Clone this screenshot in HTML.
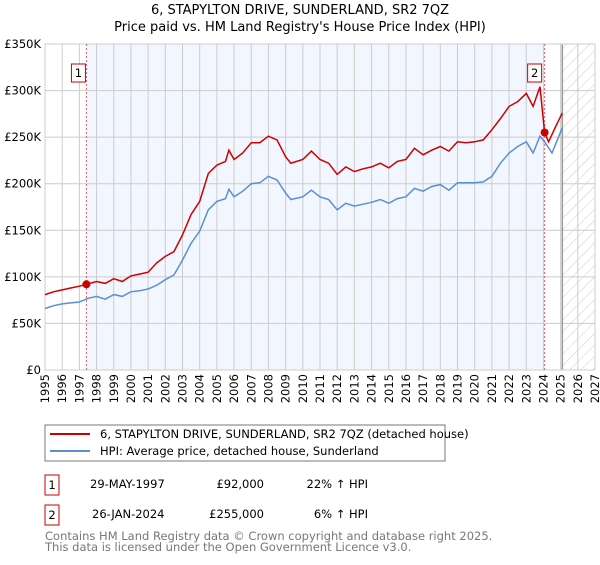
<!DOCTYPE html>
<html><head><meta charset="utf-8"><style>
body{margin:0;background:#fff;font-family:"Liberation Sans","DejaVu Sans",sans-serif;}
svg text{font-family:"DejaVu Sans","Liberation Sans",sans-serif;}
</style></head><body>
<svg id="chart" width="600" height="560" viewBox="0 0 600 560" xmlns="http://www.w3.org/2000/svg">
<defs><pattern id="hatch" patternUnits="userSpaceOnUse" width="8" height="8" patternTransform="rotate(45)"><line x1="0" y1="0" x2="0" y2="8" stroke="#ccc" stroke-width="1"/></pattern></defs>
<text x="300" y="14" text-anchor="middle" font-size="13">6, STAPYLTON DRIVE, SUNDERLAND, SR2 7QZ</text>
<text x="300" y="31" text-anchor="middle" font-size="13">Price paid vs. HM Land Registry's House Price Index (HPI)</text>
<g id="plot"></g>
<g>
<rect x="45" y="425" width="400" height="36" fill="#fff" stroke="#777"/>
<line x1="50" y1="434" x2="90" y2="434" stroke="#cc0000" stroke-width="2"/>
<text x="100" y="438" font-size="11.5">6, STAPYLTON DRIVE, SUNDERLAND, SR2 7QZ (detached house)</text>
<line x1="50" y1="451" x2="90" y2="451" stroke="#5b8fd4" stroke-width="2"/>
<text x="100" y="455" font-size="11.5">HPI: Average price, detached house, Sunderland</text>
</g>
<g font-size="11.5">
<rect x="45" y="475" width="14" height="20" fill="#fff" stroke="#cc0000"/>
<text x="52" y="489" text-anchor="middle">1</text>
<text x="90" y="488">29-MAY-1997</text>
<text x="264" y="488" text-anchor="end">£92,000</text>
<text x="368" y="488" text-anchor="end">22% ↑ HPI</text>
</g>
<g font-size="11.5">
<rect x="45" y="505" width="14" height="20" fill="#fff" stroke="#cc0000"/>
<text x="52" y="519" text-anchor="middle">2</text>
<text x="92" y="518">26-JAN-2024</text>
<text x="264" y="518" text-anchor="end">£255,000</text>
<text x="368" y="518" text-anchor="end">6% ↑ HPI</text>
</g>
<text x="45" y="540" font-size="11.5" fill="#777">Contains HM Land Registry data © Crown copyright and database right 2025.</text>
<text x="45" y="551" font-size="11.5" fill="#777">This data is licensed under the Open Government Licence v3.0.</text>
</svg>
<script>
const hpiYears=[1995,1995.5,1996,1996.5,1997,1997.5,1998,1998.5,1999,1999.5,2000,2000.5,2001,2001.5,2002,2002.5,2003,2003.5,2004,2004.5,2005,2005.5,2005.7,2006,2006.5,2007,2007.5,2008,2008.5,2009,2009.3,2010,2010.5,2011,2011.5,2012,2012.5,2013,2013.5,2014,2014.5,2015,2015.5,2016,2016.5,2017,2017.5,2018,2018.5,2019,2019.5,2020,2020.5,2021,2021.5,2022,2022.5,2023,2023.4,2023.8,2024.1,2024.5,2025.1];
const hpiValues=[66,69,71,72,73,77,79,76,81,79,84,85,87,91,97,102,118,136,149,172,181,184,194,186,192,200,201,208,204,190,183,186,193,186,183,172,179,176,178,180,183,179,184,186,195,192,197,199,193,201,201,201,202,208,222,233,240,245,233,251,244,233,260];
const priceYears=[1995,1995.5,1996,1996.5,1997,1997.41,1998,1998.5,1999,1999.5,2000,2000.5,2001,2001.5,2002,2002.5,2003,2003.5,2004,2004.5,2005,2005.5,2005.7,2006,2006.5,2007,2007.5,2008,2008.5,2009,2009.3,2010,2010.5,2011,2011.5,2012,2012.5,2013,2013.5,2014,2014.5,2015,2015.5,2016,2016.5,2017,2017.5,2018,2018.5,2019,2019.5,2020,2020.5,2021,2021.5,2022,2022.5,2023,2023.4,2023.8,2024.07,2024.3,2024.7,2025.1];
const priceValues=[81,84,86,88,90,92,95,93,98,95,101,103,105,115,122,127,145,167,181,211,220,224,236,226,233,244,244,251,247,229,222,226,235,226,222,210,218,213,216,218,222,217,224,226,238,231,236,240,235,245,244,245,247,258,270,283,288,297,283,304,255,245,261,276];
const saleYears=[1997.41,2024.07];
const saleValues=[92,255];
const saleLabels=["1","2"];
const yTicks=[0,50,100,150,200,250,300,350];
const yTickLabels=["£0","£50K","£100K","£150K","£200K","£250K","£300K","£350K"];
const xTicks=[1995,1996,1997,1998,1999,2000,2001,2002,2003,2004,2005,2006,2007,2008,2009,2010,2011,2012,2013,2014,2015,2016,2017,2018,2019,2020,2021,2022,2023,2024,2025,2026,2027];

const L=45,R=595,T=44,B=370,X0=1995,X1=2027,YMAX=350,FUT=2025.1;
const xs=v=>L+(v-X0)/(X1-X0)*(R-L);
const ys=v=>B-v/YMAX*(B-T);
const NS="http://www.w3.org/2000/svg";
const g=document.getElementById('plot');
function mk(tag,attrs,parent){const e=document.createElementNS(NS,tag);for(const k in attrs)e.setAttribute(k,attrs[k]);(parent||g).appendChild(e);return e;}

let e=mk('rect',{x:L,y:T,width:R-L,height:B-T,fill:'#fff'});


e=mk('rect',{x:xs(saleYears[0]),y:T,width:xs(saleYears[1])-xs(saleYears[0]),height:B-T,fill:'#eef3fd',opacity:0.75});


e=mk('rect',{x:xs(FUT),y:T,width:R-xs(FUT),height:B-T,fill:'url(#hatch)'});


xTicks.forEach(t=>{
  e=mk('line',{x1:xs(t),y1:T,x2:xs(t),y2:B,stroke:'#ccc','stroke-width':1});
  
  
  e=mk('text',{transform:`translate(${xs(t)+4},${B+4}) rotate(-90)`,'text-anchor':'end','font-size':11.5});
  e.textContent=t;
  
  
});
yTicks.forEach((t,i)=>{
  e=mk('line',{x1:L,y1:ys(t),x2:R,y2:ys(t),stroke:'#ccc','stroke-width':1});
  
  
  e=mk('text',{x:L-4,y:ys(t)+4,'text-anchor':'end','font-size':11.5});
  e.textContent=yTickLabels[i];
  
  
});
e=mk('line',{x1:xs(FUT),y1:T,x2:xs(FUT),y2:B,stroke:'#999','stroke-width':1.5});


e=mk('rect',{x:L,y:T,width:R-L,height:B-T,fill:'none',stroke:'#ccc'});


saleYears.forEach((s,i)=>{
  e=mk('line',{x1:xs(s),y1:T,x2:xs(s),y2:B,stroke:'#e06060','stroke-width':1,'stroke-dasharray':'2,2'});
  
  
});
e=mk('path',{d:hpiYears.map((y,i)=>(i?'L':'M')+xs(y).toFixed(1)+','+ys(hpiValues[i]).toFixed(1)).join(''),fill:'none',stroke:'#5b8fd4','stroke-width':1.5});


e=mk('path',{d:priceYears.map((y,i)=>(i?'L':'M')+xs(y).toFixed(1)+','+ys(priceValues[i]).toFixed(1)).join(''),fill:'none',stroke:'#cc0000','stroke-width':1.5});


saleYears.forEach((s,i)=>{
  e=mk('circle',{cx:xs(s),cy:ys(saleValues[i]),r:4,fill:'#cc0000'});
  
  
  const bx=xs(s)-15+(i?-2:0);
  e=mk('rect',{x:bx,y:64,width:14,height:18,fill:'#fff',stroke:'#cc0000'});
  
  
  e=mk('text',{x:bx+7,y:77,'text-anchor':'middle','font-size':11.5});
  e.textContent=saleLabels[i];
  
  
});
</script>
</body></html>
